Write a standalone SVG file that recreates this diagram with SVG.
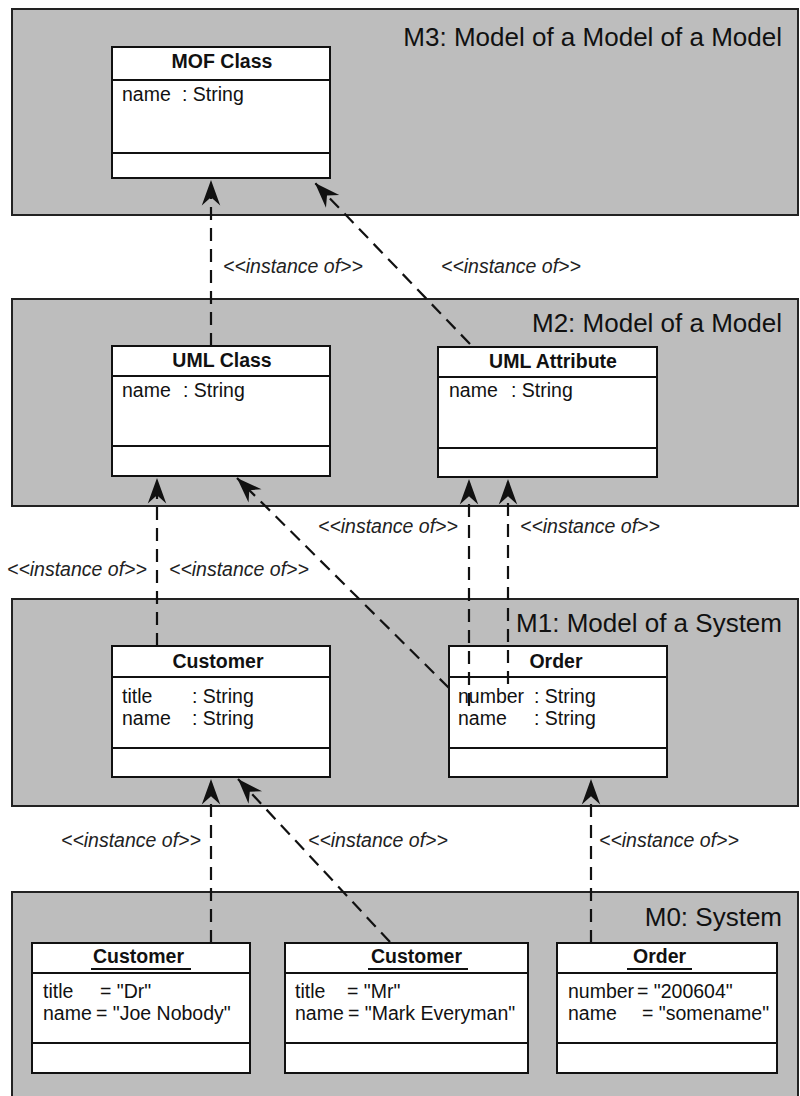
<svg xmlns="http://www.w3.org/2000/svg" width="800" height="1096" viewBox="0 0 800 1096">
<style>
.panel{fill:#bdbdbd;stroke:#222;stroke-width:2}
.box{fill:#fff;stroke:#111;stroke-width:2}
.div{stroke:#111;stroke-width:2}
.ptitle{font-family:"Liberation Sans",Arial,sans-serif;font-size:26px;fill:#111;text-anchor:end}
.ctitle{font-family:"Liberation Sans",Arial,sans-serif;font-size:19.5px;font-weight:bold;fill:#111}
.attr{font-family:"Liberation Sans",Arial,sans-serif;font-size:19.5px;fill:#111}
.lbl{font-family:"Liberation Sans",Arial,sans-serif;font-size:19.5px;font-style:italic;fill:#222}
.dep{fill:none;stroke:#111;stroke-width:2.2;stroke-dasharray:13 8;marker-end:url(#arr)}
.ul{stroke:#111;stroke-width:2}
</style>
<defs>
<marker id="arr" markerUnits="userSpaceOnUse" markerWidth="30" markerHeight="30" viewBox="-24 -10 26 20" refX="0" refY="0" orient="auto">
<path d="M0,0 L-22,-8 L-15,0 L-22,8 Z" fill="#111"/>
</marker>
</defs>

<g id="panel-m3">
<rect class="panel" x="12" y="9" width="786" height="206"/>
<text class="ptitle" x="782" y="46">M3: Model of a Model of a Model</text>
</g>
<g id="panel-m2">
<rect class="panel" x="12" y="299" width="786" height="207"/>
<text class="ptitle" x="782" y="332">M2: Model of a Model</text>
</g>
<g id="panel-m1">
<rect class="panel" x="12" y="599" width="786" height="207"/>
<text class="ptitle" x="782" y="632">M1: Model of a System</text>
</g>
<g id="panel-m0">
<rect class="panel" x="12" y="892" width="786" height="220"/>
<text class="ptitle" x="782" y="926">M0: System</text>
</g>

<g id="mof-class">
<rect class="box" x="112" y="47" width="218" height="131"/>
<line class="div" x1="112" y1="80" x2="330" y2="80"/>
<line class="div" x1="112" y1="153" x2="330" y2="153"/>
<text class="ctitle" x="222" y="68" text-anchor="middle">MOF Class</text>
<text class="attr" x="122" y="101">name<tspan x="182">: String</tspan></text>
</g>

<g id="uml-class">
<rect class="box" x="112" y="346" width="218" height="130"/>
<line class="div" x1="112" y1="376" x2="330" y2="376"/>
<line class="div" x1="112" y1="446" x2="330" y2="446"/>
<text class="ctitle" x="222" y="367" text-anchor="middle">UML Class</text>
<text class="attr" x="122" y="397">name<tspan x="183">: String</tspan></text>
</g>

<g id="uml-attribute">
<rect class="box" x="438" y="347" width="219" height="130"/>
<line class="div" x1="438" y1="377" x2="657" y2="377"/>
<line class="div" x1="438" y1="448" x2="657" y2="448"/>
<text class="ctitle" x="553" y="368" text-anchor="middle">UML Attribute</text>
<text class="attr" x="449" y="397">name<tspan x="511">: String</tspan></text>
</g>

<g id="m1-customer">
<rect class="box" x="112" y="646" width="218" height="131"/>
<line class="div" x1="112" y1="677" x2="330" y2="677"/>
<line class="div" x1="112" y1="748" x2="330" y2="748"/>
<text class="ctitle" x="218" y="668" text-anchor="middle">Customer</text>
<text class="attr" x="122" y="703">title<tspan x="192">: String</tspan></text>
<text class="attr" x="122" y="725">name<tspan x="192">: String</tspan></text>
</g>

<g id="m1-order">
<rect class="box" x="449" y="646" width="218" height="131"/>
<line class="div" x1="449" y1="677" x2="667" y2="677"/>
<line class="div" x1="449" y1="748" x2="667" y2="748"/>
<text class="ctitle" x="556" y="668" text-anchor="middle">Order</text>
<text class="attr" x="458" y="703">number<tspan x="534">: String</tspan></text>
<text class="attr" x="458" y="725">name<tspan x="534">: String</tspan></text>
</g>

<g id="m0-customer-dr">
<rect class="box" x="32" y="943" width="218" height="130"/>
<line class="div" x1="32" y1="973" x2="250" y2="973"/>
<line class="div" x1="32" y1="1043" x2="250" y2="1043"/>
<text class="ctitle" x="93" y="963">Customer</text>
<line class="ul" x1="91" y1="969" x2="191" y2="969"/>
<text class="attr" x="43" y="998">title<tspan x="100">= "Dr"</tspan></text>
<text class="attr" x="43" y="1020">name<tspan x="96">= "Joe Nobody"</tspan></text>
</g>

<g id="m0-customer-mr">
<rect class="box" x="285" y="943" width="243" height="130"/>
<line class="div" x1="285" y1="973" x2="528" y2="973"/>
<line class="div" x1="285" y1="1043" x2="528" y2="1043"/>
<text class="ctitle" x="371" y="963">Customer</text>
<line class="ul" x1="368" y1="969" x2="468" y2="969"/>
<text class="attr" x="295" y="998">title<tspan x="347">= "Mr"</tspan></text>
<text class="attr" x="295" y="1020">name<tspan x="348">= "Mark Everyman"</tspan></text>
</g>

<g id="m0-order">
<rect class="box" x="557" y="943" width="220" height="130"/>
<line class="div" x1="557" y1="973" x2="777" y2="973"/>
<line class="div" x1="557" y1="1043" x2="777" y2="1043"/>
<text class="ctitle" x="633" y="963">Order</text>
<line class="ul" x1="627" y1="969" x2="692" y2="969"/>
<text class="attr" x="568" y="998">number<tspan x="637">= "200604"</tspan></text>
<text class="attr" x="568" y="1020">name<tspan x="642">= "somename"</tspan></text>
</g>

<g id="connectors">
<line class="dep" x1="211" y1="346" x2="211" y2="180"/>
<line class="dep" x1="470" y1="344" x2="315" y2="183"/>
<line class="dep" x1="157" y1="646" x2="157" y2="478"/>
<line class="dep" x1="449" y1="688" x2="237" y2="478"/>
<line class="dep" x1="469" y1="706" x2="469" y2="479"/>
<line class="dep" x1="508" y1="684" x2="508" y2="479"/>
<line class="dep" x1="211" y1="943" x2="211" y2="779"/>
<line class="dep" x1="390" y1="942" x2="238" y2="779"/>
<line class="dep" x1="591" y1="943" x2="591" y2="779"/>
<text class="lbl" x="223" y="273">&lt;&lt;instance of&gt;&gt;</text>
<text class="lbl" x="441" y="273">&lt;&lt;instance of&gt;&gt;</text>
<text class="lbl" x="7" y="576">&lt;&lt;instance of&gt;&gt;</text>
<text class="lbl" x="169" y="576">&lt;&lt;instance of&gt;&gt;</text>
<text class="lbl" x="318" y="533">&lt;&lt;instance of&gt;&gt;</text>
<text class="lbl" x="520" y="533">&lt;&lt;instance of&gt;&gt;</text>
<text class="lbl" x="61" y="847">&lt;&lt;instance of&gt;&gt;</text>
<text class="lbl" x="308" y="847">&lt;&lt;instance of&gt;&gt;</text>
<text class="lbl" x="599" y="847">&lt;&lt;instance of&gt;&gt;</text>
</g>
</svg>
